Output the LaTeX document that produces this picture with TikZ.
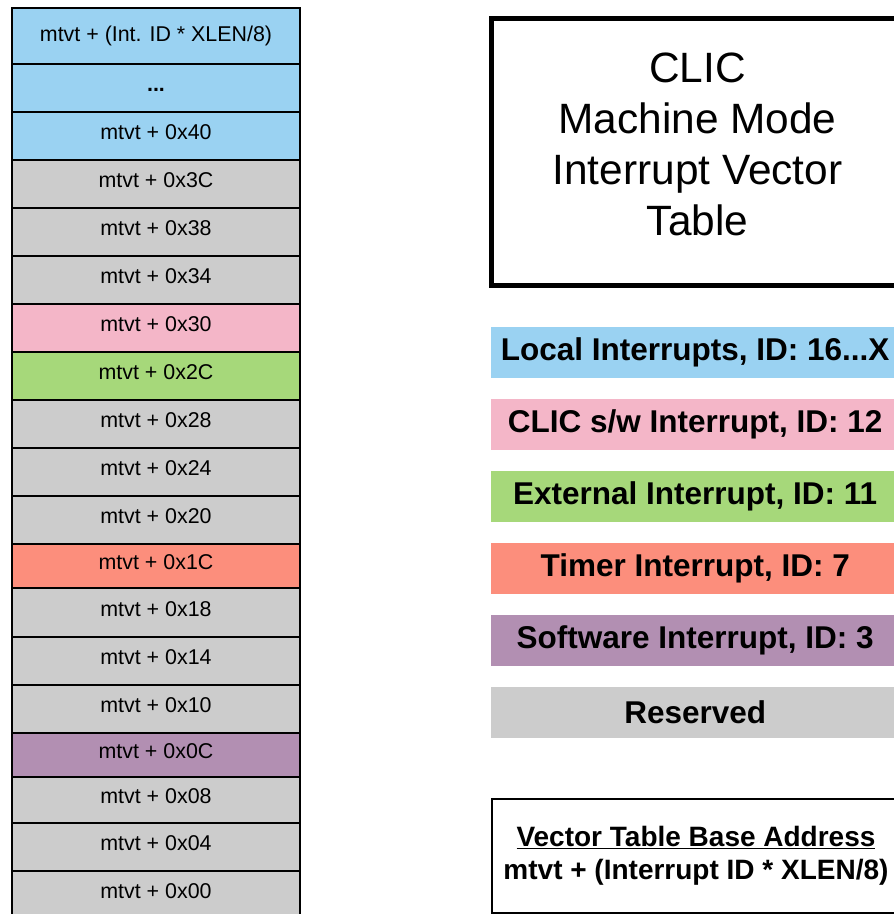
\documentclass[tikz,border=0pt]{standalone}
\usepackage{fontspec}
\setmainfont{Liberation Sans}
\definecolor{cblue}{RGB}{154,210,242}
\definecolor{cgray}{RGB}{204,204,204}
\definecolor{cpink}{RGB}{244,182,200}
\definecolor{cgreen}{RGB}{166,216,122}
\definecolor{csalmon}{RGB}{252,142,124}
\definecolor{cpurple}{RGB}{178,143,178}
\begin{document}
\begin{tikzpicture}[x=1pt,y=-1pt,
  rowbox/.style={draw=black,line width=2pt,anchor=north west,minimum width=288pt,inner sep=0pt,
     font=\fontsize{21.4}{25}\selectfont,text height=15pt,text depth=8pt},
  legbox/.style={anchor=north west,minimum width=408pt,minimum height=51pt,inner sep=0pt,
     font=\bfseries\fontsize{31.5}{36}\selectfont}]
\useasboundingbox (0,0) rectangle (894,914);
\clip (0,0) rectangle (894,914);
% left column
\node[rowbox,fill=cblue,minimum height=56pt,text height=,text depth=] (r1) at (11,7) {mtvt + (Int. ID * XLEN/8)};
\node[rowbox,fill=cblue,minimum height=48pt] (r2) at (11,63) {\textbf{...}};
\node[rowbox,fill=cblue,minimum height=48pt] (r3) at (11,111) {mtvt + 0x40};
\node[rowbox,fill=cgray,minimum height=48pt] (r4) at (11,159) {mtvt + 0x3C};
\node[rowbox,fill=cgray,minimum height=48pt] (r5) at (11,207) {mtvt + 0x38};
\node[rowbox,fill=cgray,minimum height=48pt] (r6) at (11,255) {mtvt + 0x34};
\node[rowbox,fill=cpink,minimum height=48pt] (r7) at (11,303) {mtvt + 0x30};
\node[rowbox,fill=cgreen,minimum height=48pt] (r8) at (11,351) {mtvt + 0x2C};
\node[rowbox,fill=cgray,minimum height=48pt] (r9) at (11,399) {mtvt + 0x28};
\node[rowbox,fill=cgray,minimum height=48pt] (r10) at (11,447) {mtvt + 0x24};
\node[rowbox,fill=cgray,minimum height=48pt] (r11) at (11,495) {mtvt + 0x20};
\node[rowbox,fill=csalmon,minimum height=44pt] (r12) at (11,543) {mtvt + 0x1C};
\node[rowbox,fill=cgray,minimum height=49pt] (r13) at (11,587) {mtvt + 0x18};
\node[rowbox,fill=cgray,minimum height=48pt] (r14) at (11,636) {mtvt + 0x14};
\node[rowbox,fill=cgray,minimum height=48pt] (r15) at (11,684) {mtvt + 0x10};
\node[rowbox,fill=cpurple,minimum height=44pt] (r16) at (11,732) {mtvt + 0x0C};
\node[rowbox,fill=cgray,minimum height=46pt] (r17) at (11,776) {mtvt + 0x08};
\node[rowbox,fill=cgray,minimum height=48pt] (r18) at (11,822) {mtvt + 0x04};
\node[rowbox,fill=cgray,minimum height=48pt] (r19) at (11,870) {mtvt + 0x00};
% title
\node[draw=black,line width=5pt,anchor=north west,minimum width=412pt,minimum height=267pt,
  inner sep=0pt] (title) at (489,16) {};
\node[align=center,font=\fontsize{42.4}{51}\selectfont,inner sep=0pt] (titletext)
  at ([yshift=8pt]title.center) {CLIC\\Machine Mode\\Interrupt Vector\\Table};
% legend
\node[legbox,fill=cblue] (lg1) at (491,327) {Local Interrupts, ID: 16...X};
\node[legbox,fill=cpink] (lg2) at (491,399) {CLIC s/w Interrupt, ID: 12};
\node[legbox,fill=cgreen] (lg3) at (491,471) {External Interrupt, ID: 11};
\node[legbox,fill=csalmon] (lg4) at (491,543) {Timer Interrupt, ID: 7};
\node[legbox,fill=cpurple] (lg5) at (491,615) {Software Interrupt, ID: 3};
\node[legbox,fill=cgray] (lg6) at (491,687) {Reserved};
% base address box
\node[draw=black,line width=2pt,anchor=north west,minimum width=408pt,minimum height=114pt,
  align=center,font=\bfseries\fontsize{28}{33}\selectfont,inner sep=0pt] (base) at (491,798)
  {\underline{Vector Table Base Address}\\mtvt + (Interrupt ID * XLEN/8)};
\end{tikzpicture}
\end{document}
